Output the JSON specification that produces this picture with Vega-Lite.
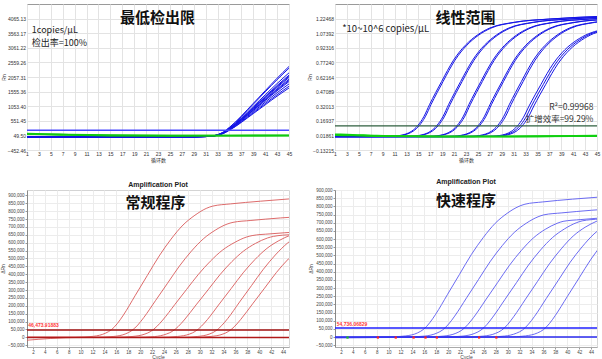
{
"$schema":"https://vega.github.io/schema/vega-lite/v6.json",
"background":"white",
"padding":{"left":0,"top":3,"right":0,"bottom":0},
"config":{"font":"Liberation Sans","view":{"stroke":"#9a9a9a"}},
"datasets":{
 "p1b":[
  {"s":"a","c":[1,10,20,29,31,32,33,34,35,36,37,38,39,40,41,42,43,44,45],"v":[0,0,0,2,12,30,73,169,327,508,714,932,1150,1367,1585,1803,2015,2220,2420]},
  {"s":"b","c":[1,10,20,29,31,32,33,34,35,36,37,38,39,40,41,42,43,44,45],"v":[0,0,0,2,12,30,71,165,319,496,696,909,1121,1333,1546,1758,1965,2165,2360]},
  {"s":"c","c":[1,10,20,29,31,32,33,34,35,36,37,38,39,40,41,42,43,44,45],"v":[0,0,0,2,11,28,66,154,297,462,649,847,1045,1243,1441,1639,1832,2019,2200]},
  {"s":"d","c":[1,10,20,29,31,32,33,34,35,36,37,38,39,40,41,42,43,44,45],"v":[0,0,0,2,11,27,64,148,286,445,625,816,1007,1198,1389,1579,1765,1945,2120]},
  {"s":"k","c":[1,10,20,29,31,32,33,34,35,36,37,38,39,40,41,42,43,44,45],"v":[0,0,0,2,10,26,62,146,281,437,614,801,988,1175,1362,1550,1732,1908,2080]},
  {"s":"e","c":[1,10,20,29,31,32,33,34,35,36,37,38,39,40,41,42,43,44,45],"v":[0,0,0,2,10,26,61,143,275,428,602,785,969,1153,1336,1520,1698,1872,2040]},
  {"s":"f","c":[1,10,20,29,31,32,33,34,35,36,37,38,39,40,41,42,43,44,45],"v":[0,0,0,2,10,25,59,139,267,416,584,762,941,1119,1297,1475,1648,1817,1980]},
  {"s":"l","c":[1,10,20,29,31,32,33,34,35,36,37,38,39,40,41,42,43,44,45],"v":[0,0,0,2,10,24,58,136,262,407,572,747,922,1096,1271,1445,1615,1780,1940]},
  {"s":"g","c":[1,10,20,29,31,32,33,34,35,36,37,38,39,40,41,42,43,44,45],"v":[0,0,0,2,10,24,57,133,257,399,561,732,903,1074,1245,1416,1582,1743,1900]},
  {"s":"h","c":[1,10,20,29,31,32,33,34,35,36,37,38,39,40,41,42,43,44,45],"v":[0,0,0,2,9,23,55,127,246,382,537,701,865,1028,1192,1356,1515,1670,1820]},
  {"s":"i","c":[1,10,20,29,31,32,33,34,35,36,37,38,39,40,41,42,43,44,45],"v":[0,0,0,2,9,22,52,122,235,365,513,670,827,983,1140,1296,1449,1596,1740]},
  {"s":"j","c":[1,10,20,29,31,32,33,34,35,36,37,38,39,40,41,42,43,44,45],"v":[0,0,0,2,8,21,50,118,227,353,496,647,798,949,1100,1252,1399,1541,1680]}
 ],
 "p1g":[
  {"s":"g1","c":[1,4,8,15,25,35,45],"v":[110,95,75,55,45,45,50]},
  {"s":"g2","c":[1,4,8,15,25,35,45],"v":[95,85,65,45,38,40,45]}
 ],
 "p2b":[
  {"s":"a1","c":[1,6.9,10.9,11.9,12.9,13.9,14.9,15.9,16.9,17.9,18.9,19.9,20.9,21.9,22.9,24.9,26.9,30.9,36.9,45.9],"v":[0.006,0.006,0.01,0.018,0.033,0.063,0.12,0.21,0.34,0.46,0.575,0.69,0.795,0.88,0.95,1.055,1.125,1.185,1.22,1.248]},
  {"s":"a2","c":[1,7.15,11.15,12.15,13.15,14.15,15.15,16.15,17.15,18.15,19.15,20.15,21.15,22.15,23.15,25.15,27.15,31.15,37.15,46.15],"v":[0.006,0.006,0.01,0.018,0.033,0.063,0.12,0.21,0.34,0.46,0.575,0.69,0.795,0.88,0.95,1.055,1.125,1.185,1.22,1.248]},
  {"s":"b1","c":[1,10.1,14.1,15.1,16.1,17.1,18.1,19.1,20.1,21.1,22.1,23.1,24.1,25.1,26.1,28.1,30.1,34.1,40.1,49.1],"v":[0.006,0.006,0.01,0.018,0.033,0.063,0.12,0.21,0.34,0.46,0.575,0.69,0.795,0.88,0.95,1.055,1.125,1.185,1.22,1.248]},
  {"s":"b2","c":[1,10.35,14.35,15.35,16.35,17.35,18.35,19.35,20.35,21.35,22.35,23.35,24.35,25.35,26.35,28.35,30.35,34.35,40.35,49.35],"v":[0.006,0.006,0.01,0.018,0.033,0.063,0.12,0.21,0.34,0.46,0.575,0.69,0.795,0.88,0.95,1.055,1.125,1.185,1.22,1.248]},
  {"s":"c1","c":[1,13.5,17.5,18.5,19.5,20.5,21.5,22.5,23.5,24.5,25.5,26.5,27.5,28.5,29.5,31.5,33.5,37.5,43.5,52.5],"v":[0.006,0.006,0.01,0.018,0.033,0.063,0.12,0.21,0.34,0.46,0.575,0.69,0.795,0.88,0.95,1.055,1.125,1.185,1.22,1.248]},
  {"s":"c2","c":[1,13.75,17.75,18.75,19.75,20.75,21.75,22.75,23.75,24.75,25.75,26.75,27.75,28.75,29.75,31.75,33.75,37.75,43.75,52.75],"v":[0.006,0.006,0.01,0.018,0.033,0.063,0.12,0.21,0.34,0.46,0.575,0.69,0.795,0.88,0.95,1.055,1.125,1.185,1.22,1.248]},
  {"s":"d1","c":[1,17.05,21.05,22.05,23.05,24.05,25.05,26.05,27.05,28.05,29.05,30.05,31.05,32.05,33.05,35.05,37.05,41.05,47.05,56.05],"v":[0.006,0.006,0.01,0.018,0.033,0.063,0.12,0.21,0.34,0.46,0.575,0.69,0.795,0.88,0.95,1.055,1.125,1.185,1.22,1.248]},
  {"s":"d2","c":[1,17.3,21.3,22.3,23.3,24.3,25.3,26.3,27.3,28.3,29.3,30.3,31.3,32.3,33.3,35.3,37.3,41.3,47.3,56.3],"v":[0.006,0.006,0.01,0.018,0.033,0.063,0.12,0.21,0.34,0.46,0.575,0.69,0.795,0.88,0.95,1.055,1.125,1.185,1.22,1.248]},
  {"s":"e1","c":[1,20.3,24.3,25.3,26.3,27.3,28.3,29.3,30.3,31.3,32.3,33.3,34.3,35.3,36.3,38.3,40.3,44.3,50.3,59.3],"v":[0.006,0.006,0.01,0.018,0.033,0.063,0.12,0.21,0.34,0.46,0.575,0.69,0.795,0.88,0.95,1.055,1.125,1.185,1.22,1.248]},
  {"s":"e2","c":[1,20.6,24.6,25.6,26.6,27.6,28.6,29.6,30.6,31.6,32.6,33.6,34.6,35.6,36.6,38.6,40.6,44.6,50.6,59.6],"v":[0.006,0.006,0.01,0.018,0.033,0.063,0.12,0.21,0.34,0.46,0.575,0.69,0.795,0.88,0.95,1.055,1.125,1.185,1.22,1.248]},
  {"s":"f1","c":[1,23.6,27.6,28.6,29.6,30.6,31.6,32.6,33.6,34.6,35.6,36.6,37.6,38.6,39.6,41.6,43.6,47.6,53.6,62.6],"v":[0.006,0.006,0.0095,0.017,0.031,0.06,0.114,0.2,0.323,0.437,0.546,0.656,0.755,0.836,0.903,1.002,1.069,1.126,1.159,1.186]},
  {"s":"f2","c":[1,24,28,29,30,31,32,33,34,35,36,37,38,39,40,42,44,48,54,63],"v":[0.006,0.006,0.0095,0.017,0.031,0.06,0.114,0.2,0.323,0.437,0.546,0.656,0.755,0.836,0.903,1.002,1.069,1.126,1.159,1.186]},
  {"s":"f3","c":[1,24.4,28.4,29.4,30.4,31.4,32.4,33.4,34.4,35.4,36.4,37.4,38.4,39.4,40.4,42.4,44.4,48.4,54.4,63.4],"v":[0.006,0.006,0.0095,0.017,0.031,0.06,0.114,0.2,0.323,0.437,0.546,0.656,0.755,0.836,0.903,1.002,1.069,1.126,1.159,1.186]}
 ],
 "p2g":[
  {"s":"g1","c":[1,4,8,15,25,35,45],"v":[0.03,0.025,0.015,0.01,0.008,0.01,0.015]},
  {"s":"g2","c":[1,4,8,15,25,35,45],"v":[0.022,0.018,0.012,0.008,0.006,0.008,0.012]}
 ],
 "p3":[
  {"s":"A","c":[1,9.2,12.2,14.2,15.2,16.2,17.2,19.2,21.2,23.2,25.2,27.2,29.2,31.2,32.2,35.2,40.2,46.2],"v":[0,0,7000,27000,49000,89000,142000,267000,392000,516000,623000,712000,774000,819000,832000,846000,863000,881000]},
  {"s":"B","c":[1,12.6,15.6,17.6,18.6,19.6,20.6,22.6,24.6,26.6,28.6,30.6,32.6,34.6,35.6,38.6,43.6,49.6],"v":[0,0,6000,23000,43000,78000,125000,234000,343000,452000,546000,624000,679000,718000,729000,741000,757000,772000]},
  {"s":"C","c":[1,15.8,18.8,20.8,21.8,22.8,23.8,25.8,27.8,29.8,31.8,33.8,35.8,37.8,38.8,41.8,46.8],"v":[0,0,6000,21000,38000,69000,110000,207000,304000,400000,483000,552000,600000,635000,645000,656000,669000]},
  {"s":"D","c":[1,19.4,22.4,24.4,25.4,26.4,27.4,29.4,31.4,33.4,35.4,37.4,39.4,41.4,42.4,45.4],"v":[0,0,5000,21000,38000,69000,110000,206000,301000,397000,480000,548000,596000,630000,640000,651000]},
  {"s":"E","c":[1,23.3,26.3,28.3,29.3,30.3,31.3,33.3,35.3,37.3,39.3,41.3,43.3,45.3],"v":[0,0,6000,21000,39000,71000,113000,212000,310000,409000,494000,564000,613000,649000]},
  {"s":"F","c":[1,26.7,29.7,31.7,32.7,33.7,34.7,36.7,38.7,40.7,42.7,44.7,46.7],"v":[0,0,6000,22000,41000,75000,119000,224000,328000,432000,522000,596000,648000]},
  {"s":"G","c":[1,5,10,28.9,31.9,33.9,34.9,35.9,36.9,38.9,40.9,42.9,44.9,46.9],"v":[-18000,-7000,0,0,6000,21000,39000,71000,114000,213000,312000,412000,497000,568000]}
 ],
 "p4":[
  {"s":"A","c":[1,9.9,12.9,14.9,15.9,16.9,17.9,19.9,21.9,23.9,25.9,27.9,29.9,31.9,32.9,35.9,40.9,46.9],"v":[-3000,0,7000,26000,48000,87000,139000,261000,383000,505000,609000,696000,757000,800000,813000,827000,844000,861000]},
  {"s":"B","c":[1,13.1,16.1,18.1,19.1,20.1,21.1,23.1,25.1,27.1,29.1,31.1,33.1,35.1,36.1,39.1,44.1,50.1],"v":[-5000,0,6000,24000,44000,80000,128000,240000,352000,464000,560000,640000,696000,736000,748000,760000,776000,792000]},
  {"s":"C","c":[1,16.3,19.3,21.3,22.3,23.3,24.3,26.3,28.3,30.3,32.3,34.3,36.3,38.3,39.3,42.3,47.3],"v":[-2000,0,6000,23000,42000,76000,121000,227000,333000,439000,530000,606000,659000,696000,708000,719000,734000]},
  {"s":"D","c":[1,19.5,22.5,24.5,25.5,26.5,27.5,29.5,31.5,33.5,35.5,37.5,39.5,41.5,42.5,45.5],"v":[-2000,0,6000,23000,42000,76000,122000,228000,334000,441000,532000,608000,661000,699000,711000,722000]},
  {"s":"E","c":[1,23,26,28,29,30,31,33,35,37,39,41,43,45],"v":[-4000,0,6000,23000,42000,77000,124000,232000,340000,448000,540000,618000,672000,710000]},
  {"s":"F","c":[1,26.5,29.5,31.5,32.5,33.5,34.5,36.5,38.5,40.5,42.5,44.5,46.5],"v":[-2000,0,6000,24000,43000,79000,126000,237000,347000,458000,552000,631000,686000]},
  {"s":"G","c":[1,30,33,35,36,37,38,40,42,44,46],"v":[-3000,0,7000,25000,45000,82000,132000,247000,362000,477000,576000]}
 ]
},
"columns":2,
"spacing":{"row":40,"column":46},
"bounds":"flush",
"concat":[
 {"width":262,"height":146,
  "encoding":{
   "x":{"field":"c","type":"quantitative","scale":{"domain":[1,45],"nice":false,"zero":false},
    "axis":{"values":[1,3,5,7,9,11,13,15,17,19,21,23,25,27,29,31,33,35,37,39,41,43,45],"title":"循环数","titleFont":"Noto Sans CJK SC","titleFontSize":5,"titleFontWeight":"normal","titleColor":"#333","labelFontSize":5,"labelColor":"#333","labelFlush":false,"labelOverlap":false,"grid":true,"gridColor":"#e3e3e3","ticks":false,"domain":false,"labelPadding":1,"titlePadding":1.5}},
   "y":{"field":"v","type":"quantitative","scale":{"domain":[-452.46,4567.08],"nice":false,"zero":false},
    "axis":{"values":[-452.46,49.5,551.45,1053.4,1555.36,2057.31,2559.26,3061.22,3563.17,4065.13],"format":".2f","title":"Rn","titleFontSize":5,"titleFontWeight":"normal","titleColor":"#333","labelFontSize":5,"labelColor":"#333","labelOverlap":false,"grid":true,"gridColor":"#e3e3e3","ticks":false,"domain":false,"labelPadding":1.5,"titlePadding":0.5}}},
  "layer":[
   {"data":{"name":"p1b"},"transform":[{"flatten":["c","v"]}],
    "mark":{"type":"line","color":"#1414e6","strokeWidth":1,"interpolate":"monotone","clip":true},
    "encoding":{"detail":{"field":"s"}}},
   {"data":{"name":"p1g"},"transform":[{"flatten":["c","v"]}],
    "mark":{"type":"line","color":"#10c810","strokeWidth":1.8,"interpolate":"monotone","clip":true},
    "encoding":{"detail":{"field":"s"}}},
   {"data":{"values":[{"c":1,"v":226},{"c":45,"v":226}]},"mark":{"type":"line","color":"#4848ff","strokeWidth":1.5},"encoding":{}},
   {"data":{"values":[{"c":22.9,"v":4095,"t":"最低检出限"}]},
    "mark":{"type":"text","font":"Noto Sans CJK SC","fontSize":15,"fontWeight":"bold","align":"center","baseline":"middle","color":"#111"},
    "encoding":{"text":{"field":"t"}}},
   {"data":{"values":[{"c":1.8,"v":3681,"t":"1copies/μL"},{"c":1.8,"v":3233,"t":"检出率=100%"}]},
    "mark":{"type":"text","font":"Noto Sans CJK SC","fontSize":9,"align":"left","baseline":"middle","color":"#222"},
    "encoding":{"text":{"field":"t"}}}
  ]},
 {"width":262,"height":146,
  "encoding":{
   "x":{"field":"c","type":"quantitative","scale":{"domain":[1,45],"nice":false,"zero":false},
    "axis":{"values":[1,3,5,7,9,11,13,15,17,19,21,23,25,27,29,31,33,35,37,39,41,43,45],"title":"循环数","titleFont":"Noto Sans CJK SC","titleFontSize":5,"titleFontWeight":"normal","titleColor":"#333","labelFontSize":5,"labelColor":"#333","labelFlush":false,"labelOverlap":false,"grid":true,"gridColor":"#e3e3e3","ticks":false,"domain":false,"labelPadding":1,"titlePadding":1.5}},
   "y":{"field":"v","type":"quantitative","scale":{"domain":[-0.13215,1.37544],"nice":false,"zero":false},
    "axis":{"values":[-0.13215,0.01861,0.16937,0.32013,0.47089,0.62164,0.7724,0.92316,1.07392,1.22468],"format":".5f","title":"Rn","titleFontSize":5,"titleFontWeight":"normal","titleColor":"#333","labelFontSize":5,"labelColor":"#333","labelOverlap":false,"grid":true,"gridColor":"#e3e3e3","ticks":false,"domain":false,"labelPadding":1.5,"titlePadding":0.5}}},
  "layer":[
   {"data":{"name":"p2b"},"transform":[{"flatten":["c","v"]}],
    "mark":{"type":"line","color":"#1414e6","strokeWidth":1,"interpolate":"monotone","clip":true},
    "encoding":{"detail":{"field":"s"}}},
   {"data":{"name":"p2g"},"transform":[{"flatten":["c","v"]}],
    "mark":{"type":"line","color":"#10d010","strokeWidth":1.8,"interpolate":"monotone","clip":true},
    "encoding":{"detail":{"field":"s"}}},
   {"data":{"values":[{"c":1,"v":0.117},{"c":45,"v":0.117}]},"mark":{"type":"line","color":"#2f5f3f","strokeWidth":1.3},"encoding":{}},
   {"data":{"values":[{"c":22.9,"v":1.228,"t":"线性范围"}]},
    "mark":{"type":"text","font":"Noto Sans CJK SC","fontSize":15,"fontWeight":"bold","align":"center","baseline":"middle","color":"#111"},
    "encoding":{"text":{"field":"t"}}},
   {"data":{"values":[{"c":2.2,"v":1.114,"t":"*10~10^6 copies/μL"}]},
    "mark":{"type":"text","font":"Noto Sans CJK SC","fontSize":9.5,"align":"left","baseline":"middle","color":"#222"},
    "encoding":{"text":{"field":"t"}}},
   {"data":{"values":[{"c":44.4,"v":0.312,"t":"R²=0.99968"},{"c":44.4,"v":0.192,"t":"扩增效率=99.29%"}]},
    "mark":{"type":"text","font":"Noto Sans CJK SC","fontSize":8.5,"align":"right","baseline":"middle","color":"#333"},
    "encoding":{"text":{"field":"t"}}}
  ]},
 {"width":262,"height":157,
  "title":{"text":"Amplification Plot","fontSize":7,"fontWeight":"bold","offset":2,"anchor":"middle","color":"#222"},
  "view":{"stroke":"#d4d4d4"},
  "encoding":{
   "x":{"field":"c","type":"quantitative","scale":{"domain":[1,45],"nice":false,"zero":false},
    "axis":{"values":[2,4,6,8,10,12,14,16,18,20,22,24,26,28,30,32,34,36,38,40,42,44],"title":"Cycle","titleFontSize":5,"titleFontWeight":"normal","titleColor":"#444","labelFontSize":4.5,"labelColor":"#444","labelFlush":false,"labelOverlap":false,"grid":true,"gridColor":"#ececec","ticks":true,"tickSize":2,"tickColor":"#999","domain":true,"domainColor":"#aaa","labelPadding":0.5,"titlePadding":0}},
   "y":{"field":"v","type":"quantitative","scale":{"domain":[-61000,934000],"nice":false,"zero":false},
    "axis":{"values":[-50000,0,50000,100000,150000,200000,250000,300000,350000,400000,450000,500000,550000,600000,650000,700000,750000,800000,850000,900000],"format":",.0f","title":"ΔRn","titleFontSize":5,"titleFontWeight":"normal","titleColor":"#444","labelFontSize":4.5,"labelColor":"#444","labelOverlap":false,"grid":true,"gridColor":"#ececec","ticks":true,"tickSize":2,"tickColor":"#999","domain":true,"domainColor":"#888","labelPadding":1,"titlePadding":2}}},
  "layer":[
   {"data":{"name":"p3"},"transform":[{"flatten":["c","v"]}],
    "mark":{"type":"line","color":"#d95a5a","strokeWidth":0.9,"interpolate":"monotone","clip":true},
    "encoding":{"detail":{"field":"s"}}},
   {"data":{"values":[{"c":1,"v":0},{"c":45,"v":0}]},"mark":{"type":"line","color":"#b01818","strokeWidth":1.5},"encoding":{}},
   {"data":{"values":[{"c":1,"v":46474},{"c":45,"v":46474}]},"mark":{"type":"line","color":"#a01010","strokeWidth":1.5},"encoding":{}},
   {"data":{"values":[{"c":1.2,"v":50000,"t":"46,473.91883"}]},
    "mark":{"type":"text","fontSize":5,"fontWeight":"bold","align":"left","baseline":"bottom","color":"#ff3a3a","dy":-1},
    "encoding":{"text":{"field":"t"}}},
   {"data":{"values":[{"c":22.6,"v":853000,"t":"常规程序"}]},
    "mark":{"type":"text","font":"Noto Sans CJK SC","fontSize":15,"fontWeight":"bold","align":"center","baseline":"middle","color":"#111"},
    "encoding":{"text":{"field":"t"}}}
  ]},
 {"width":262,"height":157,
  "title":{"text":"Amplification Plot","fontSize":7,"fontWeight":"bold","offset":2,"anchor":"middle","color":"#222"},
  "view":{"stroke":"#d4d4d4"},
  "encoding":{
   "x":{"field":"c","type":"quantitative","scale":{"domain":[1,45],"nice":false,"zero":false},
    "axis":{"values":[2,4,6,8,10,12,14,16,18,20,22,24,26,28,30,32,34,36,38,40,42,44],"title":"Cycle","titleFontSize":5,"titleFontWeight":"normal","titleColor":"#444","labelFontSize":4.5,"labelColor":"#444","labelFlush":false,"labelOverlap":false,"grid":true,"gridColor":"#ececec","ticks":true,"tickSize":2,"tickColor":"#999","domain":true,"domainColor":"#aaa","labelPadding":0.5,"titlePadding":0}},
   "y":{"field":"v","type":"quantitative","scale":{"domain":[-61000,900000],"nice":false,"zero":false},
    "axis":{"values":[-50000,0,50000,100000,150000,200000,250000,300000,350000,400000,450000,500000,550000,600000,650000,700000,750000,800000,850000,900000],"format":",.0f","title":"ΔRn","titleFontSize":5,"titleFontWeight":"normal","titleColor":"#444","labelFontSize":4.5,"labelColor":"#444","labelOverlap":false,"grid":true,"gridColor":"#ececec","ticks":true,"tickSize":2,"tickColor":"#999","domain":true,"domainColor":"#888","labelPadding":1,"titlePadding":2}}},
  "layer":[
   {"data":{"name":"p4"},"transform":[{"flatten":["c","v"]}],
    "mark":{"type":"line","color":"#5a5af0","strokeWidth":0.9,"interpolate":"monotone","clip":true},
    "encoding":{"detail":{"field":"s"}}},
   {"data":{"values":[{"c":1,"v":0},{"c":45,"v":0}]},"mark":{"type":"line","color":"#2a2aee","strokeWidth":1.5},"encoding":{}},
   {"data":{"values":[{"c":1,"v":54736},{"c":45,"v":54736}]},"mark":{"type":"line","color":"#2020ff","strokeWidth":1.5},"encoding":{}},
   {"data":{"values":[{"c":3.1,"v":-3000,"k":"g"},{"c":8.2,"v":-3000,"k":"r"},{"c":11.2,"v":-3000,"k":"r"},{"c":14.2,"v":-3000,"k":"r"},{"c":16.2,"v":-3000,"k":"r"},{"c":18.1,"v":-3000,"k":"r"},{"c":25.2,"v":-3000,"k":"r"},{"c":28.1,"v":-3000,"k":"r"}]},
    "mark":{"type":"square","size":5,"opacity":1},
    "encoding":{"color":{"field":"k","type":"nominal","scale":{"domain":["r","g"],"range":["#ff2020","#20c020"]},"legend":null}}},
   {"data":{"values":[{"c":1.3,"v":58000,"t":"54,736.06829"}]},
    "mark":{"type":"text","fontSize":5,"fontWeight":"bold","align":"left","baseline":"bottom","color":"#ff3a3a","dy":-1},
    "encoding":{"text":{"field":"t"}}},
   {"data":{"values":[{"c":23.0,"v":833000,"t":"快速程序"}]},
    "mark":{"type":"text","font":"Noto Sans CJK SC","fontSize":15,"fontWeight":"bold","align":"center","baseline":"middle","color":"#111"},
    "encoding":{"text":{"field":"t"}}}
  ]}
]
}
